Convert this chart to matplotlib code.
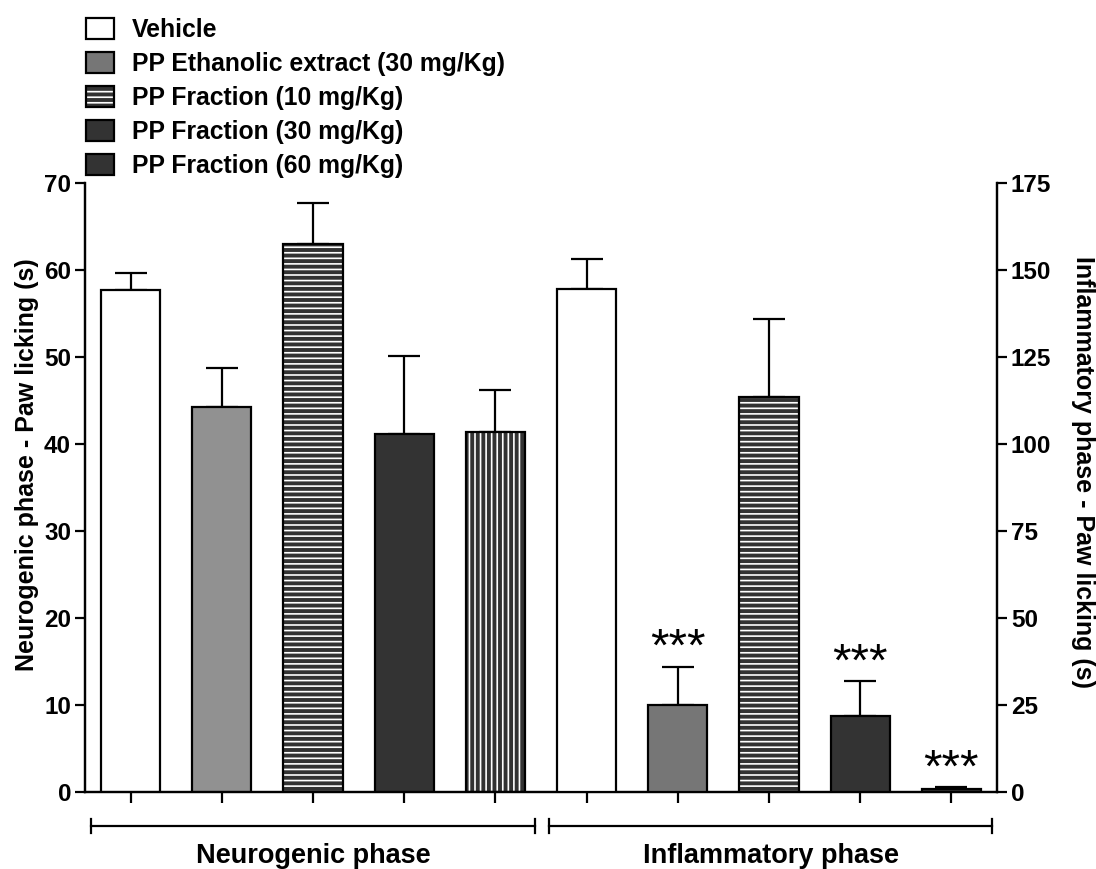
import matplotlib.pyplot as plt
from matplotlib.patches import Patch
from matplotlib.transforms import blended_transform_factory

plt.rcParams['font.family'] = ['Liberation Sans', 'DejaVu Sans']
plt.rcParams['font.weight'] = 'bold'
plt.rcParams['hatch.linewidth'] = 1.2

groups = ["Vehicle", "PP Ethanolic extract (30 mg/Kg)", "PP Fraction (10 mg/Kg)",
          "PP Fraction (30 mg/Kg)", "PP Fraction (60 mg/Kg)"]
phases = ["Neurogenic phase", "Inflammatory phase"]

neuro_mean = [57.7, 44.2, 63.0, 41.1, 41.4]
neuro_sem = [2.0, 4.5, 4.7, 9.0, 4.8]
inflam_mean = [144.5, 25.0, 113.5, 21.8, 0.9]
inflam_sem = [8.7, 11.0, 22.4, 10.0, 0.4]
inflam_sig = ["", "***", "", "***", "***"]

# styles per group: (face, hatch) for each phase
neuro_style = [("white", None), ("#919191", None), ("#333333", "---"),
               ("#333333", None), ("#333333", "|||")]
inflam_style = [("white", None), ("#767676", None), ("#333333", "---"),
                ("#333333", None), ("#333333", None)]

fig = plt.figure(figsize=(10.96, 8.69), dpi=100)
ax = fig.add_axes([85 / 1096, 1 - 792 / 869, 912 / 1096, 609 / 869])
ax2 = ax.twinx()

w = 0.65


def draw(axis, xs, means, sems, styles):
    for x, m, s, (fc, h) in zip(xs, means, sems, styles):
        if h:
            axis.bar(x, m, w, color=fc, edgecolor="white", hatch=h, linewidth=0, zorder=2)
            axis.bar(x, m, w, fill=False, edgecolor="black", linewidth=1.6, zorder=3)
        else:
            axis.bar(x, m, w, color=fc, edgecolor="black", linewidth=1.6, zorder=3)
        axis.errorbar(x, m, yerr=[[0], [s]], fmt="none", ecolor="black",
                      elinewidth=1.6, capsize=11.5, capthick=1.6, zorder=1)


draw(ax, range(0, 5), neuro_mean, neuro_sem, neuro_style)
draw(ax2, range(5, 10), inflam_mean, inflam_sem, inflam_style)

for i, (m, s, t) in enumerate(zip(inflam_mean, inflam_sem, inflam_sig)):
    if t:
        ax2.annotate(t, (i + 5, m + s), xytext=(0, -3), textcoords="offset points",
                     ha="center", va="bottom", fontsize=34, fontweight="normal")

ax.set_xlim(-0.5, 9.5)
ax.set_ylim(0, 70)
ax2.set_ylim(0, 175)
ax.set_yticks(range(0, 71, 10))
ax2.set_yticks(range(0, 176, 25))
ax.set_xticks(range(10))
ax.set_xticklabels([])

for a in (ax, ax2):
    a.spines["top"].set_visible(False)
    for sp in a.spines.values():
        sp.set_linewidth(1.6)
    a.tick_params(width=1.6, length=7, labelsize=17.5, pad=3)
ax.tick_params(axis="x", length=8)

ax.set_ylabel("Neurogenic phase - Paw licking (s)", fontsize=18, fontweight="bold")
ax.yaxis.set_label_coords(-0.050, 0.537)
ax2.set_ylabel("Inflammatory phase - Paw licking (s)", fontsize=18, fontweight="bold",
               rotation=270, va="bottom")
ax2.yaxis.set_label_coords(1.0815, 0.525)

# phase brackets below the axis
tr = blended_transform_factory(ax.transData, ax.transAxes)
for (x0, x1), name in zip([(-0.43, 4.43), (4.59, 9.45)], phases):
    ax.plot([x0, x1], [-0.056, -0.056], color="black", lw=1.6, transform=tr, clip_on=False)
    for xe in (x0, x1):
        ax.plot([xe, xe], [-0.045, -0.067], color="black", lw=1.6, transform=tr, clip_on=False)
    ax.text((x0 + x1) / 2, -0.083, name, transform=tr, ha="center", va="top",
            fontsize=19.5, fontweight="bold")

leg_style = [("white", None), ("#767676", None), ("#333333", "---"),
             ("#333333", None), ("#333333", None)]
handles = []
for g, (fc, h) in zip(groups, leg_style):
    if h:
        handles.append((Patch(facecolor=fc, edgecolor="white", hatch=h, linewidth=0),
                        Patch(fill=False, edgecolor="black", linewidth=1.6)))
    else:
        handles.append(Patch(facecolor=fc, edgecolor="black", linewidth=1.6))
fig.legend(handles=handles, labels=groups, loc="upper left", bbox_to_anchor=(0.0695, 0.991),
           frameon=False, fontsize=17.8, handlelength=1.15, handleheight=0.95,
           labelspacing=0.4, handletextpad=0.7, borderaxespad=0)

fig.savefig("out.png", dpi=100)
